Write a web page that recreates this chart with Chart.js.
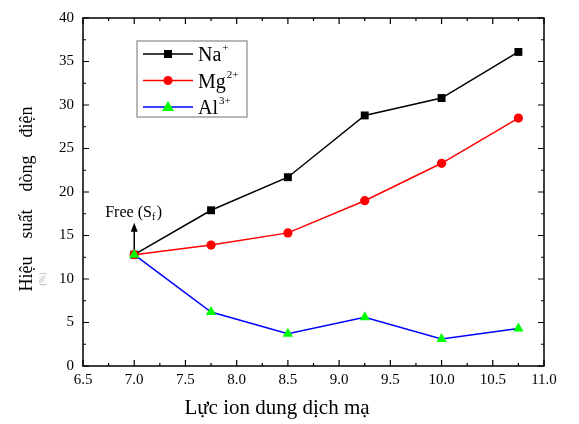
<!DOCTYPE html>
<html lang="vi">
<head>
<meta charset="UTF-8">
<title>Hiệu suất dòng điện</title>
<script src="https://cdn.jsdelivr.net/npm/chart.js@4.4.1/dist/chart.umd.min.js"></script>
<style>
  body { margin: 0; background: #fff; }
</style>
</head>
<body>
<canvas id="c" width="579" height="424"></canvas>
<script>
// data
const ionicStrength = [7.0, 7.75, 8.5, 9.25, 10.0, 10.75];
const naValues = [12.8, 17.9, 21.7, 28.8, 30.8, 36.1];
const mgValues = [12.8, 13.9, 15.3, 19.0, 23.3, 28.5];
const alValues = [12.8, 6.2, 3.7, 5.6, 3.1, 4.3];
const seriesNames = [["Na", "+"], ["Mg", "2+"], ["Al", "3+"]];
const xTitle = "Lực ion dung dịch mạ";
const yTitle = "Hiệu    suất    dòng    điện";
const yUnit = "(%)";

const SERIF = "'Liberation Serif', 'DejaVu Serif', serif";
const pts = vals => ionicStrength.map((x, i) => ({ x, y: vals[i] }));

const styles = [
  { color: "#000000", fill: "#000000", point: "rect", radius: 5.6 },
  { color: "#ff0000", fill: "#ff0000", point: "circle", radius: 4.6 },
  { color: "#0000ff", fill: "#00ff00", point: "triangle", radius: 6 }
];

const frame = {
  id: "frame",
  afterDraw(chart) {
    const { ctx, chartArea: a, scales: { x, y } } = chart;
    ctx.save();
    ctx.strokeStyle = "#000";
    ctx.lineWidth = 1.5;
    ctx.strokeRect(a.left, a.top, a.right - a.left, a.bottom - a.top);

    // inward ticks, all four sides
    ctx.lineWidth = 1.2;
    ctx.beginPath();
    for (let i = 0; i <= 18; i++) {
      const px = x.getPixelForValue(6.5 + i * 0.25);
      const len = i % 2 === 0 ? 6 : 3;
      ctx.moveTo(px, a.bottom); ctx.lineTo(px, a.bottom - len);
      ctx.moveTo(px, a.top); ctx.lineTo(px, a.top + len);
    }
    for (let i = 0; i <= 16; i++) {
      const py = y.getPixelForValue(i * 2.5);
      const len = i % 2 === 0 ? 6 : 3;
      ctx.moveTo(a.left, py); ctx.lineTo(a.left + len, py);
      ctx.moveTo(a.right, py); ctx.lineTo(a.right - len, py);
    }
    ctx.stroke();

    // axis titles
    ctx.fillStyle = "#000";
    ctx.font = "21px " + SERIF;
    ctx.textAlign = "center";
    ctx.textBaseline = "middle";
    ctx.fillText(xTitle, 277, 408);
    ctx.font = "18px " + SERIF;
    ctx.save();
    ctx.translate(27, 199);
    ctx.rotate(-Math.PI / 2);
    ctx.fillText(yTitle, 0, 0);
    ctx.restore();
    // unit line is clipped in the reference, only a faint trace shows
    ctx.save();
    ctx.globalAlpha = 0.35;
    ctx.font = "9px " + SERIF;
    ctx.translate(43, 279);
    ctx.rotate(-Math.PI / 2);
    ctx.fillText(yUnit, 0, 0);
    ctx.restore();

    // "Free (Sf)" arrow at first point
    const ax = x.getPixelForValue(ionicStrength[0]);
    const ay = y.getPixelForValue(naValues[0]) - 5;
    ctx.lineWidth = 1.5;
    ctx.beginPath();
    ctx.moveTo(ax, ay); ctx.lineTo(ax, ay - 20);
    ctx.stroke();
    ctx.beginPath();
    ctx.moveTo(ax, ay - 27); ctx.lineTo(ax - 3.5, ay - 18); ctx.lineTo(ax + 3.5, ay - 18);
    ctx.closePath(); ctx.fill();
    ctx.font = "16px " + SERIF;
    ctx.textAlign = "left";
    ctx.textBaseline = "alphabetic";
    const tx = ax - 29, ty = ay - 33;
    ctx.fillText("Free (S", tx, ty);
    let w = ctx.measureText("Free (S").width;
    ctx.font = "10px " + SERIF;
    ctx.fillText("f", tx + w, ty + 3);
    w += ctx.measureText("f").width + 1.5;
    ctx.font = "16px " + SERIF;
    ctx.fillText(")", tx + w, ty);

    // legend box
    const lx = 137, ly = 41, lw = 110, lh = 76;
    ctx.fillStyle = "#fff";
    ctx.fillRect(lx, ly, lw, lh);
    ctx.strokeStyle = "#888";
    ctx.lineWidth = 1.2;
    ctx.strokeRect(lx, ly, lw, lh);
    seriesNames.forEach((n, i) => {
      const s = styles[i];
      const ry = ly + 13 + i * 26.5;
      ctx.strokeStyle = s.color;
      ctx.lineWidth = 1.5;
      ctx.beginPath(); ctx.moveTo(lx + 6, ry); ctx.lineTo(lx + 56, ry); ctx.stroke();
      ctx.fillStyle = s.fill;
      const cx = lx + 31;
      ctx.beginPath();
      if (s.point === "rect") ctx.rect(cx - 4, ry - 4, 8, 8);
      else if (s.point === "circle") ctx.arc(cx, ry, 4.6, 0, Math.PI * 2);
      else { ctx.moveTo(cx, ry - 6); ctx.lineTo(cx - 6, ry + 4); ctx.lineTo(cx + 6, ry + 4); ctx.closePath(); }
      ctx.fill();
      ctx.fillStyle = "#000";
      ctx.font = "20px " + SERIF;
      ctx.fillText(n[0], lx + 61, ry + 7);
      const nw = ctx.measureText(n[0]).width;
      ctx.font = "11px " + SERIF;
      ctx.fillText(n[1], lx + 61 + nw + 1, ry - 3);
    });
    ctx.restore();
  }
};

const names = seriesNames.map(n => n[0] + n[1]);
const datasets = [naValues, mgValues, alValues].map((vals, i) => ({
  label: names[i],
  data: pts(vals),
  borderColor: styles[i].color,
  backgroundColor: styles[i].fill,
  pointBackgroundColor: styles[i].fill,
  pointBorderWidth: 0,
  pointStyle: styles[i].point,
  pointRadius: styles[i].radius,
  borderWidth: 1.5,
  tension: 0,
  order: 3 - i
}));

new Chart(document.getElementById("c"), {
  type: "line",
  data: { datasets },
  options: {
    responsive: false,
    devicePixelRatio: 1,
    animation: false,
    layout: { padding: { top: 18, right: 35, left: 0, bottom: 0 } },
    plugins: { legend: { display: false }, tooltip: { enabled: false } },
    scales: {
      x: {
        type: "linear",
        min: 6.5, max: 11,
        grid: { display: false, drawTicks: false, tickLength: 0 },
        border: { display: false },
        afterFit: s => { s.height = 58; },
        ticks: {
          stepSize: 0.5,
          padding: 5,
          color: "#000",
          font: { family: SERIF, size: 15 },
          callback: v => v.toFixed(1)
        }
      },
      y: {
        min: 0, max: 40,
        grid: { display: false, drawTicks: false, tickLength: 0 },
        border: { display: false },
        afterFit: s => { s.width = 83; },
        ticks: {
          stepSize: 5,
          padding: 9,
          color: "#000",
          font: { family: SERIF, size: 15 }
        }
      }
    }
  },
  plugins: [frame]
});
</script>
</body>
</html>
